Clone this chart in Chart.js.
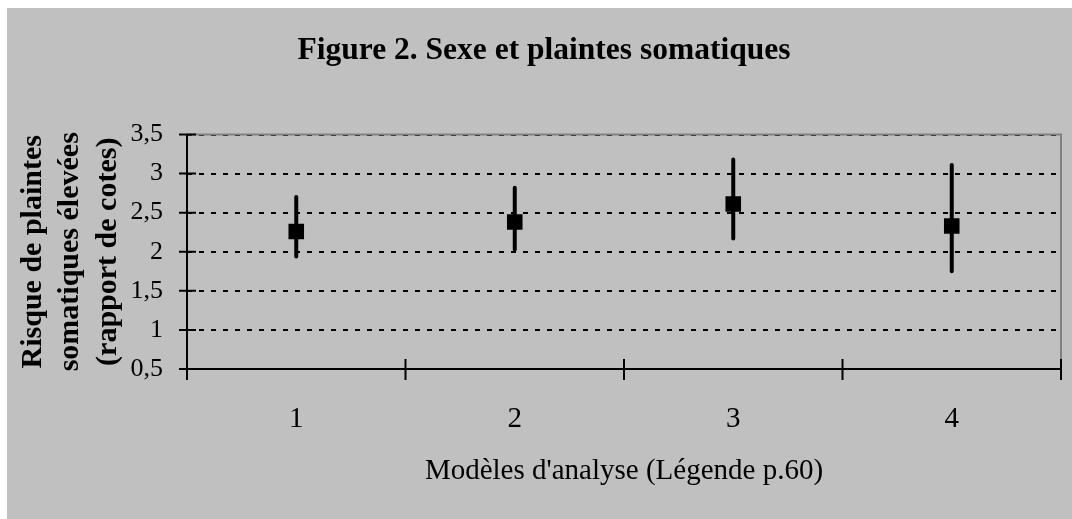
<!DOCTYPE html>
<html>
<head>
<meta charset="utf-8">
<script src="https://cdn.jsdelivr.net/npm/chart.js@4"></script>
<style>
  html, body { margin: 0; background: #fff; overflow: hidden; width: 1072px; height: 519px; }
  #wrap { position: absolute; left: 7px; top: 8px; right: 0; bottom: 0; background: #c0c0c0; }
</style>
</head>
<body>
<div id="wrap"><canvas id="chart"></canvas></div>
<script>
const categories = ['1', '2', '3', '4'];
const oddsRatio = [2.26, 2.38, 2.61, 2.33];
const ciLower = [1.94, 2.03, 2.17, 1.75];
const ciUpper = [2.70, 2.82, 3.18, 3.11];
const yTicks = [0.5, 1, 1.5, 2, 2.5, 3, 3.5];

const serif = 'Liberation Serif';

// plot frame, crossing tick marks and the confidence interval bars
const frame = {
    id: 'frame',
    beforeDatasetsDraw(chart) {
        const { ctx, chartArea: a, scales: { x, y } } = chart;
        ctx.save();
        ctx.lineWidth = 2;
        ctx.strokeStyle = '#808080';
        ctx.beginPath();
        ctx.moveTo(a.left, a.top);
        ctx.lineTo(a.right, a.top);
        ctx.lineTo(a.right, a.bottom);
        ctx.stroke();

        ctx.strokeStyle = '#000';
        ctx.beginPath();
        ctx.moveTo(a.left, a.top);
        ctx.lineTo(a.left, a.bottom);
        ctx.lineTo(a.right, a.bottom);
        yTicks.forEach(v => {
            const py = y.getPixelForValue(v);
            ctx.moveTo(a.left - 8, py);
            ctx.lineTo(a.left + 9, py);
        });
        const n = categories.length;
        for (let i = 0; i <= n; i++) {
            let px;
            if (i === 0) px = a.left;
            else if (i === n) px = a.right;
            else px = (x.getPixelForValue(i - 1) + x.getPixelForValue(i)) / 2;
            ctx.moveTo(px, a.bottom - 10);
            ctx.lineTo(px, a.bottom + 11);
        }
        ctx.stroke();

        ctx.lineWidth = 4;
        ctx.lineCap = 'round';
        ctx.beginPath();
        ciLower.forEach((lo, i) => {
            const px = x.getPixelForValue(i);
            ctx.moveTo(px, y.getPixelForValue(lo));
            ctx.lineTo(px, y.getPixelForValue(ciUpper[i]));
        });
        ctx.stroke();
        ctx.restore();
    }
};

new Chart(document.getElementById('chart'), {
    type: 'line',
    data: {
        labels: categories,
        datasets: [{
            data: oddsRatio,
            showLine: false,
            pointStyle: 'rect',
            pointRadius: 11,
            pointHoverRadius: 11,
            pointBackgroundColor: '#000',
            pointBorderWidth: 0
        }]
    },
    options: {
        responsive: true,
        maintainAspectRatio: false,
        animation: false,
        layout: { padding: { left: 19, right: 10, top: 0, bottom: 0 } },
        plugins: {
            legend: { display: false },
            tooltip: { enabled: false },
            title: {
                display: true,
                text: 'Figure 2. Sexe et plaintes somatiques',
                color: '#000',
                font: { family: serif, size: 31.5, weight: 'bold' },
                padding: { top: 24, bottom: 64.7 }
            }
        },
        scales: {
            x: {
                type: 'category',
                offset: true,
                grid: { display: false, drawTicks: false },
                border: { display: false },
                ticks: { color: '#000', font: { family: serif, size: 29 }, padding: 33 },
                title: {
                    display: true,
                    text: "Modèles d'analyse (Légende p.60)",
                    color: '#000',
                    font: { family: serif, size: 29 },
                    padding: { top: 0, bottom: 30 }
                },
                afterFit: s => { s.height = 150; }
            },
            y: {
                min: 0.5,
                max: 3.5,
                afterBuildTicks: s => { s.ticks = yTicks.map(v => ({ value: v })); },
                ticks: {
                    color: '#000',
                    font: { family: serif, size: 26 },
                    padding: 24,
                    callback: v => String(v).replace('.', ',')
                },
                grid: { color: '#000', lineWidth: 2, drawTicks: false },
                border: { display: false, dash: [5, 7] },
                title: {
                    display: true,
                    text: ['Risque de plaintes', 'somatiques élevées', '(rapport de cotes)'],
                    color: '#000',
                    font: { family: serif, size: 30, weight: 'bold', lineHeight: 1.25 },
                    padding: { top: -12, bottom: 0 }
                },
                afterFit: s => { s.width = 161; }
            }
        }
    },
    plugins: [frame]
});
</script>
</body>
</html>
